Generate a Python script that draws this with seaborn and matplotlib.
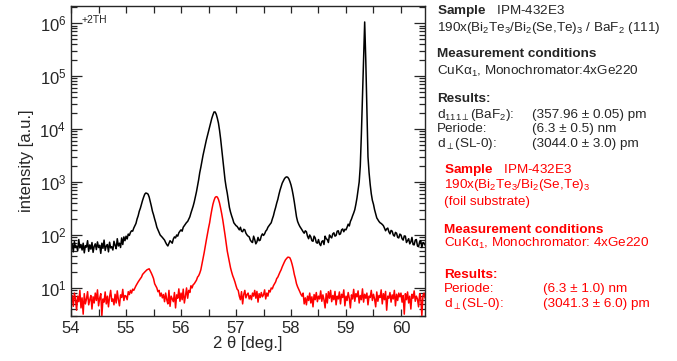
import numpy as np
import pandas as pd
import matplotlib
matplotlib.use('Agg')
import matplotlib.pyplot as plt
from matplotlib.ticker import LogLocator, MultipleLocator, NullFormatter, FuncFormatter
import seaborn as sns

# scan grid: 2theta from 54.00 to 60.44 deg, step 0.02
start_2th = 54.00
step_2th = 0.02

# superlattice on BaF2 (black), one row per 0.5 deg
black_counts = [
    55, 68, 48, 75, 58, 62, 50, 82, 57, 66, 52, 70, 46, 63, 59, 78, 49, 65, 54, 72, 47, 61, 68, 53, 74,
    58, 64, 45, 70, 56, 80, 51, 62, 66, 48, 73, 57, 60, 52, 76, 64, 55, 85, 62, 70, 58, 88, 66, 92, 78,
    95, 84, 104, 98, 112, 120, 118, 135, 150, 165, 200, 230, 280, 320, 380, 450, 520, 590, 620, 610, 590, 520, 430, 350, 280,
    240, 200, 170, 140, 125, 112, 100, 95, 90, 85, 80, 72, 66, 62, 70, 78, 74, 70, 84, 92, 88, 100, 95, 110, 118,
    125, 118, 140, 150, 160, 172, 180, 200, 220, 260, 300, 350, 420, 520, 650, 850, 1100, 1500, 1900, 2500, 3200, 4000, 5000, 6200, 7500,
    9000, 11000, 13500, 16000, 18500, 21000, 21000, 19000, 16000, 13000, 9500, 6500, 4200, 2800, 1800, 1100, 800, 620, 450, 330, 270, 230, 200, 170, 160,
    150, 145, 135, 125, 140, 118, 115, 128, 125, 108, 100, 95, 92, 80, 75, 72, 95, 82, 68, 74, 90, 78, 80, 96, 105,
    98, 105, 118, 125, 140, 150, 160, 170, 200, 230, 280, 330, 400, 470, 580, 700, 820, 950, 1050, 1150, 1220, 1250, 1230, 1150, 1020,
    880, 720, 560, 420, 300, 220, 180, 160, 145, 135, 125, 115, 108, 120, 115, 95, 85, 100, 92, 78, 76, 95, 88, 72, 70,
    82, 68, 63, 75, 78, 66, 95, 85, 82, 72, 100, 92, 88, 105, 110, 95, 98, 118, 120, 102, 105, 125, 130, 115, 128,
    125, 140, 160, 148, 180, 200, 230, 260, 300, 380, 500, 700, 1000, 2000, 8000, 40000, 200000, 1050000, 200000, 25000, 3000, 1500, 900, 600, 450,
    380, 300, 250, 210, 195, 180, 170, 165, 158, 150, 135, 120, 130, 135, 115, 105, 122, 118, 100, 95, 112, 108, 90, 88, 104,
    100, 85, 80, 96, 95, 72, 78, 85, 68, 74, 90, 66, 65, 80, 82, 62, 60, 75, 78, 58, 72, 70, 64,
]

# superlattice on foil substrate (red)
red_counts = [
    5, 7.2, 4.5, 8, 6.2, 3.8, 7, 5.5, 9, 4.2, 6.5, 3.2, 7.8, 5, 6.2, 8.5, 4.8, 6, 7.2, 4, 6.8, 5.2, 8, 5.8, 9.2,
    4.6, 6.4, 7.8, 3.0, 6.2, 5.4, 8.4, 5.0, 7.0, 4.4, 6.8, 9.0, 5.6, 6.2, 4.8, 7.6, 5.2, 8.8, 6.0, 4.6, 7.4, 6.6, 9.4, 5.8, 7.2,
    7, 6, 8.5, 7.5, 9, 8, 9.5, 9, 10, 11, 12, 13, 14, 15, 16, 18, 19, 20, 21, 22, 22.5, 23, 21, 19, 17,
    15, 12, 11, 10, 8.5, 9, 7, 8, 6.5, 7.5, 5.5, 8, 6, 5, 9, 4.5, 7, 6.2, 5.5, 8.2, 4.2, 7.4, 6.4, 9.6, 5.6,
    8, 6, 9.5, 5.2, 7, 10, 6.4, 9, 8.2, 11, 10, 11.5, 12, 13, 14, 16, 17, 19, 22, 28, 36, 46, 60, 80, 105,
    135, 170, 230, 300, 380, 450, 510, 530, 520, 470, 400, 320, 250, 190, 140, 100, 70, 50, 39, 30, 24, 20, 17, 15, 13,
    11, 9.5, 9, 7, 6, 8.5, 5, 7.5, 9, 6.5, 7.5, 8, 6.2, 7.2, 6, 8, 7, 9, 6.4, 8.6, 5.4, 7.8, 6.6, 8.2, 6.8,
    7.4, 9.2, 6.2, 8, 7, 9, 8.4, 10, 9.6, 11, 12, 13, 15, 16, 18, 20, 22, 25, 28, 31, 34, 36, 38, 38, 37,
    33, 28, 23, 18, 15, 12, 10.5, 9.5, 8.5, 7.6, 7, 8, 5, 6.5, 4.8, 7, 5.8, 8, 5.2, 6.8, 4.4, 7.5, 6, 8.2, 5.5,
    7, 6.2, 8.8, 5.6, 7.4, 6, 4.2, 7.8, 5.2, 8.5, 6.4, 9, 5.5, 7.2, 6, 8.6, 4.8, 7, 6.2, 8.4, 5, 7.6, 6.6, 9.2, 4.6,
    7, 5.8, 8.2, 6.4, 4.2, 7.4, 6.2, 9.4, 5.6, 7.8, 6.8, 8.8, 5.2, 7.2, 6, 9.6, 5.4, 7.6, 6.4, 8, 4.8, 7, 6.6, 9, 5.8,
    7.6, 6.2, 4.4, 8.4, 5.6, 7.2, 6.6, 9.2, 5, 7.8, 6, 8.6, 3.8, 7, 6.4, 8.2, 5.4, 7.4, 6.2, 9, 4.6, 7.6, 5.8, 8, 6.8,
    8, 5.4, 7.2, 3.2, 7.8, 6, 8.4, 5.2, 7, 4, 7.6, 6.4, 8.8, 5.6, 7, 6.2, 4.4, 7.8, 6.6, 3.0, 7.2, 8.0, 6.4,
]

two_theta = np.round(start_2th + step_2th * np.arange(len(black_counts)), 2)

x_ticks = [54, 55, 56, 57, 58, 59, 60]

sns.set_style('ticks')
plt.rcParams['font.family'] = ['Liberation Sans', 'DejaVu Sans']
plt.rcParams['mathtext.fontset'] = 'custom'
plt.rcParams['mathtext.rm'] = 'Liberation Sans'
plt.rcParams['mathtext.it'] = 'Liberation Sans'
plt.rcParams['mathtext.bf'] = 'Liberation Sans:bold'

df = pd.DataFrame({'two_theta': two_theta, 'black': black_counts, 'red': red_counts})

fig = plt.figure(figsize=(6.77, 3.61), dpi=100)
ax = fig.add_axes([0.105, 0.125, 0.523, 0.858])

sns.lineplot(data=df, x='two_theta', y='black', color='black', lw=1.1, ax=ax)
sns.lineplot(data=df, x='two_theta', y='red', color='red', lw=1.1, ax=ax)

ax.set_yscale('log')
ax.set_xlim(54, 60.44)
ax.set_ylim(2.97, 2.09e6)
ax.set_xticks(x_ticks)
ax.xaxis.set_minor_locator(MultipleLocator(0.5))
ax.yaxis.set_major_locator(LogLocator(base=10, numticks=10))
ax.yaxis.set_minor_locator(LogLocator(base=10, subs=np.arange(2, 10), numticks=20))
ax.yaxis.set_minor_formatter(NullFormatter())
ax.yaxis.set_major_formatter(FuncFormatter(lambda v, p: r'10$^{%d}$' % round(np.log10(v))))

ax.tick_params(which='both', direction='in', top=True, right=True, labelsize=12, width=0.9)
ax.tick_params(axis='y', which='major', length=8)
ax.tick_params(axis='y', which='minor', length=4)
ax.tick_params(axis='x', which='both', length=5)
for s in ax.spines.values():
    s.set_linewidth(1.0)

ax.set_xlabel('2 θ [deg.]', fontsize=12, labelpad=0)
ax.set_ylabel('intensity [a.u.]', fontsize=12, labelpad=4)
ax.text(0.03, 0.97, '+2TH', transform=ax.transAxes, fontsize=7.5, va='top', ha='left')

# black info block
fs = 9.7
xb = 437 / 677
xv = 532 / 677
def yy(px):
    return 1 - px / 361

fig.text(xb, yy(14), r'$\mathbf{Sample}$   IPM-432E3', fontsize=fs)
fig.text(xb, yy(31), r'190x(Bi$_2$Te$_3$/Bi$_2$(Se,Te)$_3$ / BaF$_2$ (111)', fontsize=fs)
fig.text(xb, yy(57), 'Measurement conditions', fontsize=fs, weight='bold')
fig.text(xb, yy(75), r'CuK$\alpha_1$, Monochromator:4xGe220', fontsize=fs)
fig.text(xb, yy(102), 'Results:', fontsize=fs, weight='bold')
fig.text(xb, yy(118), r'd$_{111\perp}$(BaF$_2$):', fontsize=fs)
fig.text(xv, yy(118), '(357.96 ± 0.05) pm', fontsize=fs)
fig.text(xb, yy(132), 'Periode:', fontsize=fs)
fig.text(xv, yy(132), '(6.3 ± 0.5) nm', fontsize=fs)
fig.text(xb, yy(147), r'd$_{\perp}$(SL-0):', fontsize=fs)
fig.text(xv, yy(147), '(3044.0 ± 3.0) pm', fontsize=fs)

# red info block
xr = 444 / 677
xrv = 543 / 677
fig.text(xr, yy(173), r'$\mathbf{Sample}$   IPM-432E3', fontsize=fs, color='red')
fig.text(xr, yy(188), r'190x(Bi$_2$Te$_3$/Bi$_2$(Se,Te)$_3$', fontsize=fs, color='red')
fig.text(xr, yy(205), '(foil substrate)', fontsize=fs, color='red')
fig.text(xr, yy(233), 'Measurement conditions', fontsize=fs, weight='bold', color='red')
fig.text(xr, yy(247), r'CuK$\alpha_1$, Monochromator: 4xGe220', fontsize=fs, color='red')
fig.text(xr, yy(278), 'Results:', fontsize=fs, weight='bold', color='red')
fig.text(xr, yy(292), 'Periode:', fontsize=fs, color='red')
fig.text(xrv, yy(292), '(6.3 ± 1.0) nm', fontsize=fs, color='red')
fig.text(xr, yy(307), r'd$_{\perp}$(SL-0):', fontsize=fs, color='red')
fig.text(xrv, yy(307), '(3041.3 ± 6.0) pm', fontsize=fs, color='red')

fig.savefig('out.png', dpi=100)
